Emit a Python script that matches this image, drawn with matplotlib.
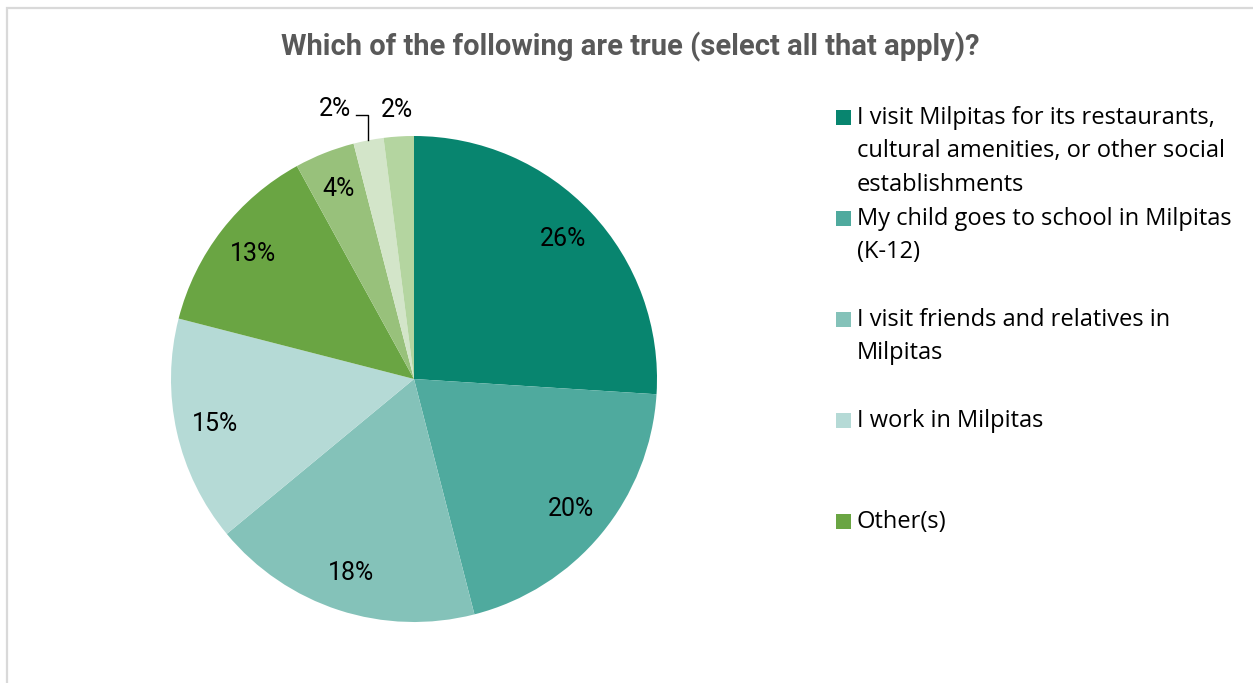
import numpy as np
import matplotlib.pyplot as plt
from matplotlib.patches import Rectangle

# survey answers, share of responses in percent
shares = [26, 20, 18, 15, 13, 4, 2, 2]
colors = ['#08856f', '#4faa9e', '#84c2b9', '#b5dad6',
          '#6aa543', '#98c17b', '#d3e5c9', '#b4d5a0']
legend_labels = [
    'I visit Milpitas for its restaurants,\ncultural amenities, or other social\nestablishments',
    'My child goes to school in Milpitas\n(K-12)',
    'I visit friends and relatives in\nMilpitas',
    'I work in Milpitas',
    'Other(s)',
]
title = 'Which of the following are true (select all that apply)?'

W, H = 1253, 683
fig = plt.figure(figsize=(W / 100, H / 100), dpi=100)

# chart area frame (left and top edges visible)
fig.add_artist(Rectangle((7 / W, -0.1), 1.2, (H - 8) / H + 0.1,
                         transform=fig.transFigure, fill=False,
                         edgecolor='#d9d9d9', lw=1.6))

fig.text(630 / W, 1 - 47 / H, title, ha='center', va='center',
         fontsize=21, family='Roboto', fontweight='bold', color='#595959')

# pie axes: center (414, 379) px, radius 243 px
cx, cy, r = 414, 379, 243
ax = fig.add_axes([(cx - r) / W, (H - cy - r) / H, 2 * r / W, 2 * r / H])
wedges, _ = ax.pie(shares, colors=colors, startangle=90, counterclock=False,
                   radius=1, wedgeprops=dict(linewidth=0))
ax.set_xlim(-1, 1)
ax.set_ylim(-1, 1)
ax.set_aspect('equal')
ax.axis('off')

lab_kw = dict(fontsize=18, family='Roboto', color='black', ha='center', va='center')
for i, (w, v) in enumerate(zip(wedges, shares)):
    mid = np.deg2rad((w.theta1 + w.theta2) / 2)
    ex, ey = np.cos(mid), np.sin(mid)
    if i < 6:
        ax.text(0.84 * ex, 0.84 * ey, f'{v}%', **lab_kw)
    elif i == 6:
        # outside label with a leader line
        ax.plot([ex, ex, ex - 0.05], [ey, 1.086, 1.086], color='black',
                lw=1, clip_on=False)
        ax.text(ex - 0.072, 1.113, f'{v}%', **{**lab_kw, 'ha': 'right'})
    else:
        ax.text(1.11 * ex, 1.11 * ey, f'{v}%', **lab_kw)

# legend, fixed spacing between entries
for i, lab in enumerate(legend_labels):
    ytop = 117 + 101 * i
    fig.add_artist(Rectangle((836 / W, 1 - (ytop + 7.5) / H), 15 / W, 15 / H,
                             transform=fig.transFigure, color=colors[i], lw=0))
    fig.text(857 / W, 1 - (ytop - 11) / H, lab, ha='left', va='top',
             fontsize=17, family='Open Sans', color='black', linespacing=1.52)

fig.savefig('out.png', dpi=100, facecolor='white')
